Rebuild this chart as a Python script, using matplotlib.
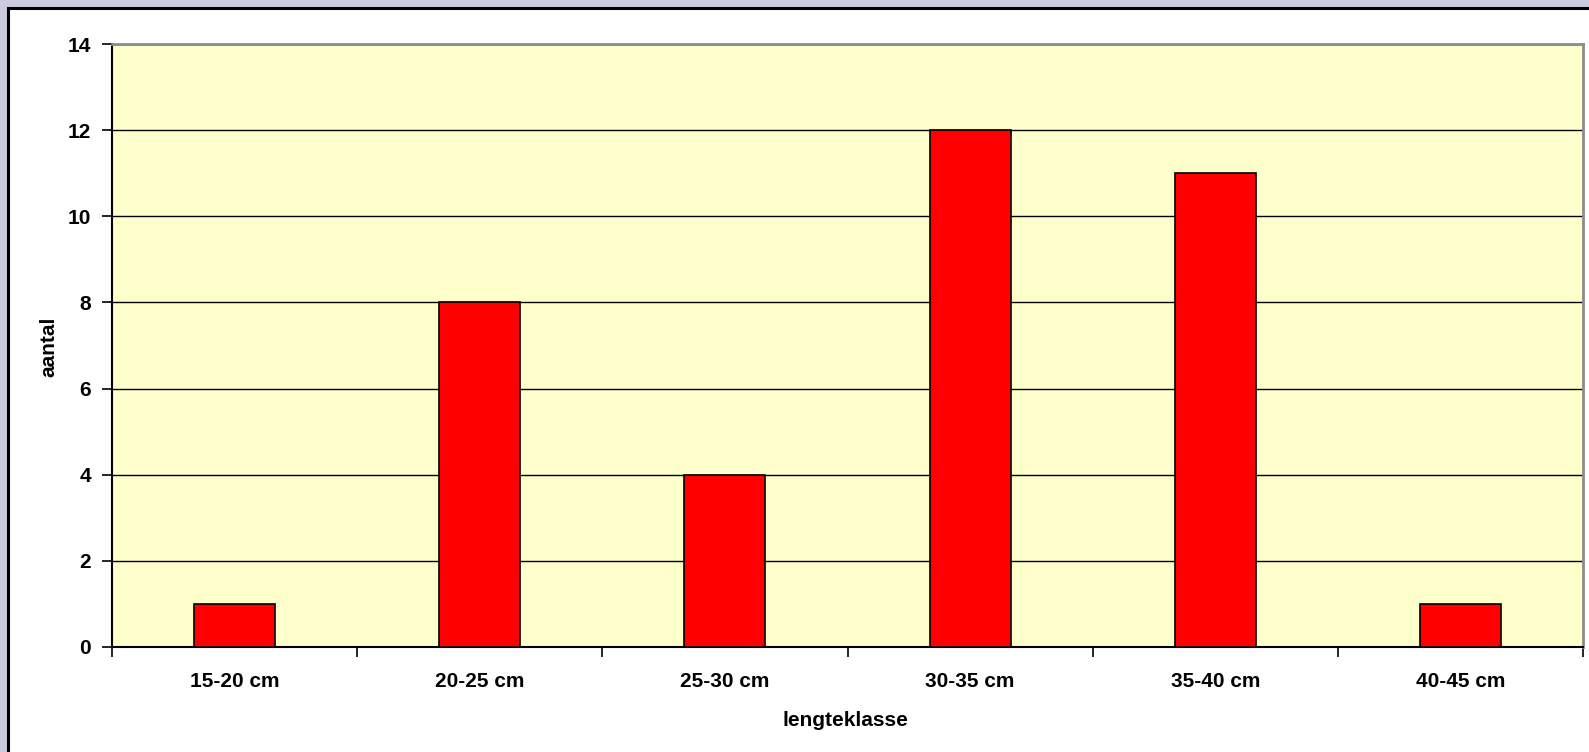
import matplotlib
matplotlib.use("Agg")
import matplotlib.pyplot as plt
from matplotlib.patches import Rectangle

# data
klassen = ["15-20 cm", "20-25 cm", "25-30 cm", "30-35 cm", "35-40 cm", "40-45 cm"]
aantal = [1, 8, 4, 12, 11, 1]
y_ticks = [0, 2, 4, 6, 8, 10, 12, 14]

plt.rcParams['font.family'] = ['Liberation Sans', 'DejaVu Sans']
plt.rcParams['font.weight'] = 'bold'

W, H = 1589, 752
fig = plt.figure(figsize=(W / 100, H / 100), dpi=100)
fig.patch.set_facecolor("#CCCCE0")

# white chart area with black border (behind the axes)
fig.patches.append(Rectangle((8 / W, -0.01), 1.0, 1 - 8 / H + 0.01, transform=fig.transFigure,
                             facecolor="white", edgecolor="black", linewidth=2.2, zorder=-5))

ax = fig.add_axes([112 / W, 1 - 647 / H, (1583 - 112) / W, (647 - 44) / H])
ax.set_facecolor("#FFFFCC")

x = range(len(klassen))
ax.bar(x, aantal, width=0.33, color="#FF0000", edgecolor="black", linewidth=1.2, zorder=3)

ax.set_xlim(-0.5, len(klassen) - 0.5)
ax.set_ylim(0, 14)
ax.set_yticks(y_ticks)
ax.set_yticklabels([str(v) for v in y_ticks], fontsize=15, fontweight='bold')
ax.yaxis.grid(True, color="black", linewidth=1.0, zorder=1)
ax.set_axisbelow(True)

# category labels centred, ticks at the boundaries
ax.set_xticks(list(x))
ax.set_xticklabels(klassen, fontsize=15, fontweight='bold')
ax.tick_params(axis='x', length=0, pad=18)
ax.set_xticks([i - 0.5 for i in range(len(klassen) + 1)], minor=True)
ax.tick_params(axis='x', which='minor', length=7, width=1.2, color="black", direction='out')
ax.tick_params(axis='y', length=7, width=1.2, color="black", direction='out', pad=8)

for side in ["left", "bottom"]:
    ax.spines[side].set_color("black")
    ax.spines[side].set_linewidth(1.5)
for side in ["top", "right"]:
    ax.spines[side].set_color("#8C8C8C")
    ax.spines[side].set_linewidth(2)

fig.text(49 / W, 1 - 347 / H, "aantal", rotation=90, ha='center', va='center',
         fontsize=15, fontweight='bold')
fig.text(845 / W, 1 - 720 / H, "lengteklasse", ha='center', va='center',
         fontsize=15, fontweight='bold')

fig.savefig("out.png", dpi=100, facecolor=fig.get_facecolor())
